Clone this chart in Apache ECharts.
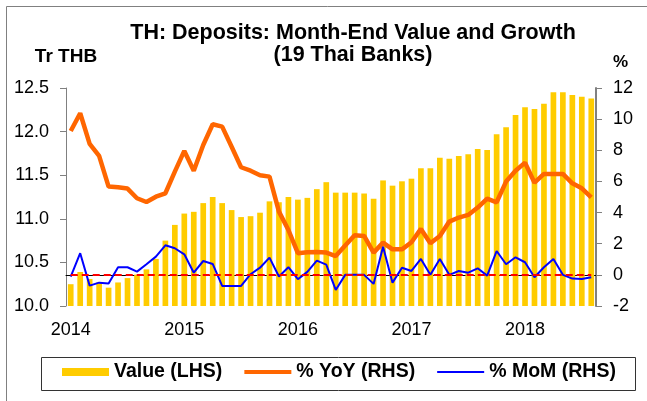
<!DOCTYPE html>
<html>
<head>
<meta charset="utf-8">
<script src="https://cdn.jsdelivr.net/npm/echarts@6/dist/echarts.min.js"></script>
<style>
  html, body { margin: 0; padding: 0; background: #fff; }
  #main { width: 647px; height: 401px; }
</style>
</head>
<body>
<div id="main"></div>
<script>
// month-end categories, Jan 2014 .. Aug 2018
var months = [];
for (var yr = 2014; yr <= 2018; yr++) {
  for (var mo = 1; mo <= 12; mo++) {
    if (yr === 2018 && mo > 8) break;
    months.push(yr + '-' + (mo < 10 ? '0' + mo : mo));
  }
}

// deposits, Tr THB (LHS)
var depositValue = [10.25, 10.39, 10.31, 10.27, 10.21, 10.27, 10.32, 10.36, 10.42, 10.54, 10.75, 10.93,
  11.06, 11.08, 11.18, 11.25, 11.18, 11.10, 11.02, 11.03, 11.07, 11.20, 11.19, 11.25,
  11.22, 11.24, 11.34, 11.42, 11.30, 11.30, 11.30, 11.29, 11.23, 11.44, 11.38, 11.43,
  11.46, 11.58, 11.58, 11.70, 11.69, 11.72, 11.74, 11.80, 11.79, 11.97, 12.05, 12.19,
  12.28, 12.26, 12.32, 12.45, 12.45, 12.42, 12.40, 12.38];

// % YoY (RHS)
var yoyPct = [9.24, 10.38, 8.41, 7.64, 5.67, 5.62, 5.54, 4.92, 4.68, 5.02, 5.24, 6.63,
  7.96, 6.69, 8.34, 9.67, 9.52, 8.23, 6.91, 6.69, 6.40, 6.31, 4.06, 2.88,
  1.39, 1.45, 1.47, 1.43, 1.21, 1.88, 2.54, 2.50, 1.43, 2.07, 1.64, 1.64,
  2.09, 2.95, 2.03, 2.50, 3.42, 3.68, 3.85, 4.32, 4.89, 4.66, 5.99, 6.69,
  7.21, 5.92, 6.48, 6.48, 6.48, 5.88, 5.56, 4.98];

// % MoM (RHS)
var momPct = [-0.11, 1.39, -0.69, -0.50, -0.56, 0.49, 0.49, 0.21, 0.68, 1.17, 1.90, 1.71,
  1.32, 0.14, 0.89, 0.70, -0.71, -0.71, -0.71, 0.04, 0.46, 1.11, -0.11, 0.49,
  -0.28, 0.19, 0.91, 0.66, -0.97, 0, 0, 0, -0.58, 1.81, -0.50, 0.46,
  0.25, 1.02, 0, 1.02, 0, 0.25, 0.14, 0.42, -0.05, 1.53, 0.68, 1.13,
  0.81, -0.15, 0.49, 1.02, 0, -0.24, -0.26, -0.15];

// axis ranges
var leftAxis = { min: 10, max: 12.5, step: 0.5 };
var rightAxis = { min: -2, max: 12, step: 2 };

var font = 'Liberation Sans, Arial, sans-serif';

var chart = echarts.init(document.getElementById('main'));

var option = {
  backgroundColor: '#fff',
  animation: false,
  title: {
    text: 'TH: Deposits: Month-End Value and Growth\n(19 Thai Banks)',
    left: 348,
    top: 17,
    textAlign: 'center',
    textStyle: { fontFamily: font, fontSize: 21.5, fontWeight: 'bold', color: '#000', lineHeight: 22 }
  },
  graphic: [
    { type: 'rect', left: 4, top: 4, shape: { width: 700, height: 500 },
      style: { fill: 'none', stroke: '#808080', lineWidth: 1 }, silent: true },
    { type: 'rect', left: 39, top: 355, shape: { width: 594, height: 33 },
      style: { fill: 'none', stroke: '#333', lineWidth: 1 }, silent: true }
  ],
  legend: {
    left: 62,
    top: 362,
    padding: 0,
    itemWidth: 47,
    itemHeight: 8,
    itemGap: 22,
    textStyle: { fontFamily: font, fontSize: 19.5, fontWeight: 'bold', color: '#000' },
    data: [
      { name: 'Value (LHS)', icon: 'rect' },
      { name: '% YoY (RHS)', icon: 'path://M0,0M0,2h47v4h-47zM47,8' },
      { name: '% MoM (RHS)', icon: 'path://M0,0M0,3h47v2h-47zM47,8' }
    ]
  },
  grid: { left: 66, right: 51, top: 88, bottom: 95 },
  xAxis: {
    type: 'category',
    data: months,
    boundaryGap: true,
    axisLine: { lineStyle: { color: '#000', width: 1 } },
    axisTick: {
      alignWithLabel: false,
      length: 6,
      interval: function (i) { return i % 12 === 0; },
      lineStyle: { color: '#808080' }
    },
    axisLabel: {
      interval: function (i) { return i % 12 === 0; },
      formatter: function (v) { return v.slice(0, 4); },
      margin: 15,
      fontFamily: font, fontSize: 18, color: '#000'
    }
  },
  yAxis: [
    {
      type: 'value',
      min: leftAxis.min, max: leftAxis.max, interval: leftAxis.step,
      name: 'Tr THB',
      nameLocation: 'end',
      nameGap: 22,
      nameTextStyle: { fontFamily: font, fontSize: 19, fontWeight: 'bold', color: '#000', align: 'center' },
      axisLine: { show: true, lineStyle: { color: '#808080', width: 1 } },
      axisTick: { show: true, length: 6, lineStyle: { color: '#808080' } },
      splitLine: { show: false },
      axisLabel: {
        margin: 17,
        formatter: function (v) { return v.toFixed(1); },
        fontFamily: font, fontSize: 18, color: '#000'
      }
    },
    {
      type: 'value',
      min: rightAxis.min, max: rightAxis.max, interval: rightAxis.step,
      name: '%',
      nameLocation: 'end',
      nameGap: 17,
      nameTextStyle: { fontFamily: font, fontSize: 17, fontWeight: 'bold', color: '#000', align: 'left', padding: [0, 0, 0, 17] },
      axisLine: { show: true, lineStyle: { color: '#808080', width: 2 } },
      axisTick: { show: true, length: 6, lineStyle: { color: '#808080' } },
      splitLine: { show: false },
      axisLabel: { margin: 17, fontFamily: font, fontSize: 18, color: '#000' }
    }
  ],
  series: [
    {
      name: 'Value (LHS)',
      type: 'bar',
      yAxisIndex: 0,
      data: depositValue,
      barWidth: '60%',
      itemStyle: { color: '#FFCC00' }
    },
    {
      name: '% YoY (RHS)',
      type: 'line',
      yAxisIndex: 1,
      data: yoyPct,
      symbol: 'none',
      lineStyle: { color: '#FF6600', width: 4.5 },
      itemStyle: { color: '#FF6600' },
      z: 3
    },
    {
      name: '% MoM (RHS)',
      type: 'line',
      yAxisIndex: 1,
      data: momPct,
      symbol: 'none',
      lineStyle: { color: '#0000FF', width: 2 },
      itemStyle: { color: '#0000FF' },
      z: 4,
      markLine: {
        silent: true,
        symbol: 'none',
        label: { show: false },
        lineStyle: { color: '#FF0000', width: 2, type: [7, 4] },
        data: [[
          { xAxis: months[0], yAxis: 0 },
          { xAxis: months[months.length - 1], yAxis: 0 }
        ]]
      }
    }
  ]
};

chart.setOption(option);
</script>
</body>
</html>
